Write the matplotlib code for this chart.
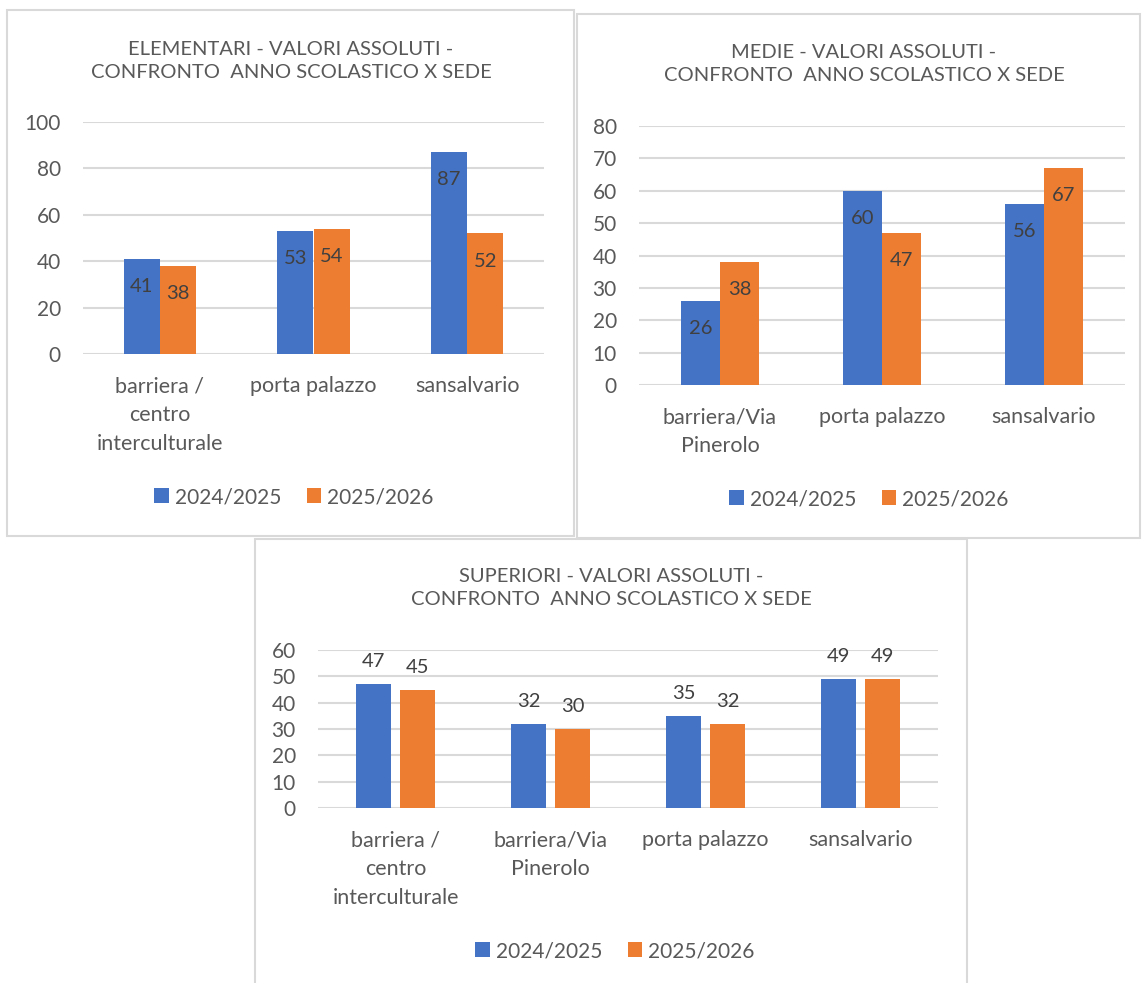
import matplotlib
matplotlib.use("Agg")
import matplotlib.pyplot as plt
from matplotlib.patches import Rectangle
import numpy as np

# dati
anni = ['2024/2025', '2025/2026']

elem_sedi = ['barriera /\ncentro\ninterculturale', 'porta palazzo', 'sansalvario']
elem_2425 = [41, 53, 87]
elem_2526 = [38, 54, 52]

medie_sedi = ['barriera/Via\nPinerolo', 'porta palazzo', 'sansalvario']
medie_2425 = [26, 60, 56]
medie_2526 = [38, 47, 67]

sup_sedi = ['barriera /\ncentro\ninterculturale', 'barriera/Via\nPinerolo', 'porta palazzo', 'sansalvario']
sup_2425 = [47, 32, 35, 49]
sup_2526 = [45, 30, 32, 49]

BLU = '#4472C4'
ARANCIO = '#ED7D31'
GRIGIO = '#D9D9D9'
TESTO = '#595959'

plt.rcParams['font.family'] = ['Lato', 'DejaVu Sans']

W, H = 1143, 983
fig = plt.figure(figsize=(W / 100, H / 100), dpi=100)


def fx(px):
    return px / W


def fy(py):
    return 1 - py / H


def cornice(x0, y0, x1, y1):
    fig.patches.append(Rectangle((fx(x0), fy(y1)), fx(x1 - x0), (y1 - y0) / H,
                                 transform=fig.transFigure, fill=False,
                                 edgecolor=GRIGIO, linewidth=1.5, zorder=0))


def grafico(box, titolo, tit_xy, sedi, v1, v2, ymax, passo, larg, spazio,
            etichette_sopra, leg_xy):
    x0, y0, x1, y1 = box
    ax = fig.add_axes([fx(x0), fy(y1), fx(x1 - x0), (y1 - y0) / H])
    x = np.arange(len(sedi))
    off = (larg + spazio) / 2
    b1 = ax.bar(x - off, v1, larg, color=BLU, label=anni[0], zorder=3)
    b2 = ax.bar(x + off, v2, larg, color=ARANCIO, label=anni[1], zorder=3)
    ax.set_xlim(-0.5, len(sedi) - 0.5)
    ax.set_ylim(0, ymax)
    ax.set_yticks(np.arange(0, ymax + 1, passo))
    ax.yaxis.grid(True, color=GRIGIO, linewidth=1.5, zorder=0)
    ax.set_axisbelow(True)
    for s in ax.spines.values():
        s.set_visible(False)
    ax.tick_params(axis='both', length=0, labelsize=15, labelcolor=TESTO)
    ax.tick_params(axis='y', pad=16)
    ax.tick_params(axis='x', pad=16)
    ax.set_xticks(x)
    ax.set_xticklabels(sedi, linespacing=1.55, fontsize=15.5)
    for barre in (b1, b2):
        if etichette_sopra:
            ax.bar_label(barre, padding=10, fontsize=14.5, color='#404040')
        else:
            for r in barre:
                ax.annotate(f'{int(r.get_height())}',
                            (r.get_x() + r.get_width() / 2, r.get_height()),
                            xytext=(0, -20), textcoords='offset points',
                            ha='center', va='center', fontsize=14.5, color='#404040')
    fig.text(fx(tit_xy[0]), fy(tit_xy[1]), titolo, ha='center', va='center',
             fontsize=14.5, color=TESTO, linespacing=1.45)
    fig.legend(handles=[b1, b2], loc='center', bbox_to_anchor=(fx(leg_xy[0]), fy(leg_xy[1])),
               ncol=2, frameon=False, fontsize=15, labelcolor=TESTO,
               handlelength=0.7, handleheight=0.7, handletextpad=0.3, columnspacing=1.2)
    return ax


cornice(7, 10, 574, 536)
cornice(577, 14, 1140, 538)
cornice(255, 539, 967, 990)

grafico((83, 122, 544, 354),
        'ELEMENTARI - VALORI ASSOLUTI -\nCONFRONTO  ANNO SCOLASTICO X SEDE', (291, 61),
        elem_sedi, elem_2425, elem_2526, 100, 20, 0.235, 0.0, False, (294, 497))

grafico((639, 126, 1125, 385),
        'MEDIE - VALORI ASSOLUTI -\nCONFRONTO  ANNO SCOLASTICO X SEDE', (864, 64),
        medie_sedi, medie_2425, medie_2526, 80, 10, 0.24, 0.0, False, (869, 499))

grafico((318, 650, 938, 808),
        'SUPERIORI - VALORI ASSOLUTI -\nCONFRONTO  ANNO SCOLASTICO X SEDE', (611, 588),
        sup_sedi, sup_2425, sup_2526, 60, 10, 0.226, 0.058, True, (615, 951))

fig.savefig('out.png', dpi=100, facecolor='white')
